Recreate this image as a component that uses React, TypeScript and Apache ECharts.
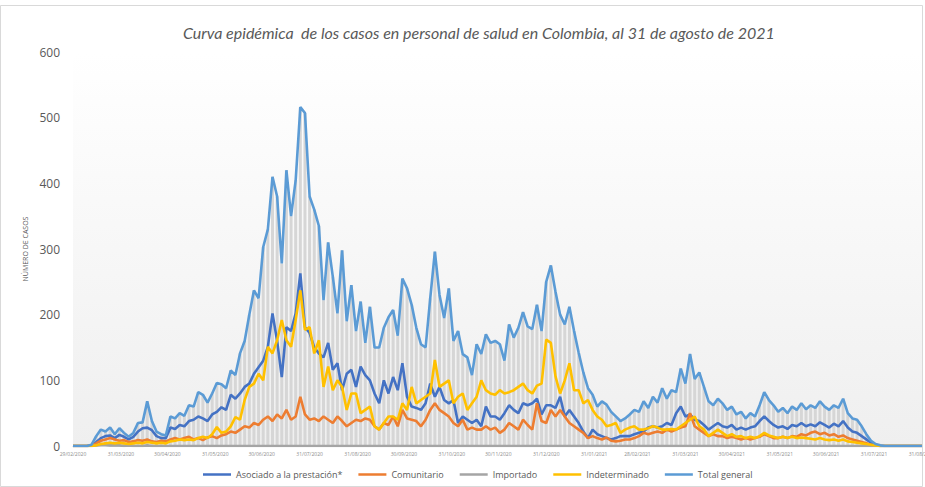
import React, { useEffect, useRef } from "react";
import * as echarts from "echarts";

const TITLE = "Curva epidémica  de los casos en personal de salud en Colombia, al 31 de agosto de 2021";
const Y_NAME = "NÚMERO DE CASOS";
const SERIES_NAMES = ["Asociado a la prestación*", "Comunitario", "Importado", "Indeterminado", "Total general"];
const COLORS = ["#4472C4", "#ED7D31", "#A5A5A5", "#FFC000", "#5B9BD5"];

// one sample every 3 days starting 29/02/2020
const START_DATE = "29/02/2020";
const STEP_DAYS = 3;

const TICK_LABELS = [
  "29/02/2020", "31/03/2020", "30/04/2020", "31/05/2020", "30/06/2020", "31/07/2020",
  "31/08/2020", "30/09/2020", "31/10/2020", "30/11/2020", "31/12/2020", "31/01/2021",
  "28/02/2021", "31/03/2021", "30/04/2021", "31/05/2021", "30/06/2021", "31/07/2021", "31/08/2021",
];

const TOTAL = [
  0, 0, 0, 0, 2, 15, 25, 22, 28, 18,
  27, 20, 14, 20, 35, 36, 68, 38, 22, 18,
  16, 45, 42, 50, 46, 62, 60, 82, 78, 66,
  80, 96, 94, 88, 115, 108, 141, 160, 200, 237,
  225, 303, 330, 410, 380, 278, 420, 350, 405, 516,
  507, 380, 360, 335, 222, 310, 258, 202, 298, 190,
  245, 175, 220, 157, 212, 150, 150, 180, 196, 207,
  168, 255, 240, 215, 180, 155, 150, 225, 296, 230,
  195, 240, 160, 175, 140, 135, 108, 155, 140, 170,
  157, 160, 155, 130, 185, 165, 180, 204, 182, 178,
  215, 175, 250, 275, 235, 200, 185, 212, 175, 142,
  112, 88, 78, 60, 68, 63, 52, 45, 38, 42,
  48, 55, 52, 68, 58, 75, 66, 88, 72, 85,
  82, 118, 95, 140, 102, 112, 90, 68, 62, 72,
  65, 55, 60, 48, 52, 42, 50, 45, 62, 82,
  70, 62, 52, 58, 50, 60, 55, 65, 56, 62,
  58, 68, 60, 55, 62, 58, 72, 50, 42, 40,
  30, 18, 8, 3, 1, 0, 0, 0, 0, 0,
  0, 0, 0, 0,
];

const ASOCIADO = [
  0, 0, 0, 0, 1, 6, 12, 15, 16, 12,
  17, 14, 10, 14, 22, 27, 28, 24, 15, 12,
  12, 28, 26, 32, 30, 38, 40, 45, 42, 38,
  48, 52, 59, 55, 78, 72, 80, 90, 95, 110,
  120, 130, 151, 202, 160, 105, 181, 175, 202, 263,
  181, 172, 150, 141, 135, 157, 116, 126, 85, 110,
  116, 90, 121, 108, 100, 80, 65, 100, 80, 105,
  85, 126, 75, 60, 58, 55, 65, 95, 75, 90,
  70, 65, 70, 35, 45, 40, 35, 40, 30, 60,
  45, 45, 40, 50, 62, 55, 50, 65, 62, 65,
  72, 48, 62, 62, 58, 75, 45, 55, 45, 35,
  22, 12, 25, 18, 15, 12, 10, 12, 15, 15,
  15, 18, 20, 22, 28, 30, 28, 30, 35, 32,
  50, 60, 45, 48, 40, 38, 32, 25, 30, 35,
  30, 28, 32, 25, 28, 25, 28, 30, 38, 45,
  38, 32, 28, 30, 26, 32, 30, 35, 30, 33,
  30, 36, 32, 28, 34, 30, 38, 28, 22, 20,
  15, 10, 5, 2, 0, 0, 0, 0, 0, 0,
  0, 0, 0, 0,
];

const COMUNITARIO = [
  0, 0, 0, 0, 1, 4, 8, 10, 12, 10,
  8, 9, 6, 7, 9, 8, 10, 7, 6, 8,
  7, 10, 12, 10, 12, 14, 10, 12, 9, 13,
  15, 12, 16, 18, 22, 20, 25, 30, 28, 35,
  32, 40, 45, 38, 48, 42, 55, 40, 45, 75,
  48, 40, 42, 38, 45, 40, 35, 45, 38, 30,
  35, 40, 38, 42, 40, 30, 25, 35, 32, 45,
  30, 55, 42, 40, 38, 30, 40, 55, 65, 55,
  50, 45, 35, 30, 40, 25, 28, 25, 25, 30,
  25, 28, 20, 25, 35, 30, 25, 40, 32, 25,
  65, 38, 35, 55, 45, 55, 45, 35, 30, 25,
  20, 12, 15, 12, 10, 13, 8, 7, 8, 10,
  10, 12, 15, 20, 18, 20, 22, 20, 25, 22,
  25, 28, 30, 50, 30, 25, 20, 15, 18, 15,
  15, 12, 14, 12, 10, 12, 10, 12, 14, 18,
  15, 12, 12, 14, 12, 15, 14, 18, 16, 20,
  22, 18, 20, 16, 18, 14, 16, 12, 10, 8,
  6, 4, 2, 1, 0, 0, 0, 0, 0, 0,
  0, 0, 0, 0,
];

const IMPORTADO = [
  0, 0, 0, 0, 0, 1, 2, 2, 1, 1,
  1, 0, 1, 0, 0, 0, 1, 0, 0, 0,
  0, 0, 0, 0, 0, 0, 0, 0, 0, 0,
  0, 0, 0, 0, 0, 0, 0, 0, 0, 0,
  0, 0, 0, 0, 0, 0, 0, 0, 0, 0,
  0, 0, 0, 0, 0, 0, 0, 0, 0, 0,
  0, 0, 0, 0, 0, 0, 0, 0, 0, 0,
  0, 0, 0, 0, 0, 0, 0, 0, 0, 0,
  0, 0, 0, 0, 0, 0, 0, 0, 0, 0,
  0, 0, 0, 0, 0, 0, 0, 0, 0, 0,
  0, 0, 0, 0, 0, 0, 0, 0, 0, 0,
  0, 0, 0, 0, 0, 0, 0, 0, 0, 0,
  0, 0, 0, 0, 0, 0, 0, 0, 0, 0,
  0, 0, 0, 0, 0, 0, 0, 0, 0, 0,
  0, 0, 0, 0, 0, 0, 0, 0, 0, 0,
  0, 0, 0, 0, 0, 0, 0, 0, 0, 0,
  0, 0, 0, 0, 0, 0, 0, 0, 0, 0,
  0, 0, 0, 0, 0, 0, 0, 0, 0, 0,
  0, 0, 0, 0,
];

const INDETERMINADO = [
  0, 0, 0, 0, 0, 1, 3, 4, 5, 4,
  5, 4, 3, 4, 5, 4, 6, 5, 4, 5,
  4, 7, 8, 10, 9, 10, 9, 12, 14, 12,
  18, 29, 20, 22, 30, 44, 40, 70, 90, 95,
  110, 100, 151, 141, 161, 192, 161, 151, 192, 237,
  177, 181, 141, 161, 90, 121, 85, 100, 90, 55,
  80, 80, 50, 55, 60, 30, 25, 35, 45, 45,
  40, 65, 55, 90, 65, 70, 75, 80, 131, 90,
  95, 100, 65, 75, 80, 55, 65, 75, 100, 85,
  80, 78, 85, 80, 82, 85, 90, 95, 85, 80,
  92, 95, 162, 157, 106, 80, 100, 126, 85, 85,
  65, 70, 55, 45, 40, 30, 32, 35, 20, 25,
  28, 30, 25, 25, 27, 30, 28, 25, 25, 26,
  25, 30, 35, 40, 45, 30, 25, 15, 20, 25,
  20, 15, 18, 14, 15, 12, 14, 12, 15, 20,
  16, 14, 12, 14, 12, 14, 12, 13, 12, 11,
  10, 12, 10, 9, 10, 8, 10, 7, 6, 5,
  4, 3, 2, 1, 0, 0, 0, 0, 0, 0,
  0, 0, 0, 0,
];

const DAY_MS = 86400000;
function parseDate(s: string): number {
  const [d, m, y] = s.split("/").map(Number);
  return Date.UTC(y, m - 1, d);
}
const START_MS = parseDate(START_DATE);
function dayIndex(s: string): number {
  return Math.round((parseDate(s) - START_MS) / DAY_MS);
}
function fmtDay(v: number): string {
  const d = new Date(START_MS + Math.round(v) * DAY_MS);
  const dd = String(d.getUTCDate()).padStart(2, "0");
  const mm = String(d.getUTCMonth() + 1).padStart(2, "0");
  return `${dd}/${mm}/${d.getUTCFullYear()}`;
}

export default function App() {
  const ref = useRef<HTMLDivElement>(null);
  useEffect(() => {
    if (!ref.current) return;
    const chart = echarts.init(ref.current, null, { renderer: "svg" });
    const toPairs = (arr: number[]) => arr.map((v, i) => [i * STEP_DAYS, v]);
    const tickDays = TICK_LABELS.map(dayIndex);
    const lastDay = tickDays[tickDays.length - 1];
    const values = [ASOCIADO, COMUNITARIO, IMPORTADO, INDETERMINADO, TOTAL];
    const font = "'Open Sans', 'Liberation Sans', sans-serif";

    const lineSeries = SERIES_NAMES.map((name, i) => ({
      name,
      type: "line",
      data: toPairs(values[i]),
      showSymbol: false,
      symbol: "none",
      lineStyle: { color: COLORS[i], width: 2.6 },
      itemStyle: { color: COLORS[i] },
      z: 3 + i,
    }));

    chart.setOption({
      animation: false,
      backgroundColor: "#ffffff",
      title: {
        text: TITLE,
        left: 178,
        top: 19,
        textStyle: {
          fontFamily: "Lato, 'Open Sans', sans-serif",
          fontStyle: "italic",
          fontWeight: "normal",
          fontSize: 16,
          color: "#595959",
        },
      },
      legend: {
        data: SERIES_NAMES,
        top: 465,
        left: 198,
        icon: "rect",
        itemWidth: 28,
        itemHeight: 2.5,
        itemGap: 16,
        textStyle: { fontSize: 9, color: "#595959", fontFamily: font },
      },
      graphic: [
        {
          type: "rect",
          shape: { x: 0.5, y: 5.5, width: 922, height: 481 },
          style: { fill: "none", stroke: "#d9d9d9", lineWidth: 1 },
          silent: true,
        },
      ],
      grid: {
        left: 73,
        right: 3,
        top: 52,
        bottom: 41,
        outerBoundsMode: "none",
        containLabel: false,
        show: true,
        borderWidth: 0,
        backgroundColor: {
          type: "linear",
          x: 0, y: 0, x2: 0, y2: 1,
          colorStops: [
            { offset: 0, color: "#ffffff" },
            { offset: 1, color: "#efefef" },
          ],
        },
      },
      xAxis: {
        type: "value",
        min: 0,
        max: lastDay,
        splitLine: { show: false },
        axisLine: { show: true, lineStyle: { color: "#d0d0d0", width: 1 } },
        axisTick: { show: false },
        axisLabel: {
          customValues: tickDays,
          formatter: (v: number) => fmtDay(v),
          fontSize: 5,
          color: "#8c8c8c",
          margin: 5,
          fontFamily: font,
          showMaxLabel: true,
          showMinLabel: true,
        },
      },
      yAxis: {
        type: "value",
        min: 0,
        max: 600,
        interval: 100,
        name: Y_NAME,
        nameLocation: "middle",
        nameGap: 40,
        nameRotate: 90,
        nameTextStyle: { fontSize: 7, color: "#595959", fontFamily: font },
        splitLine: { show: false },
        axisLine: { show: false },
        axisTick: { show: false },
        axisLabel: { fontSize: 12, color: "#595959", margin: 13, fontFamily: font },
      },
      series: [
        {
          name: "drop",
          type: "bar",
          data: toPairs(TOTAL),
          barWidth: 3,
          itemStyle: { color: "#d6d6d6" },
          silent: true,
          z: 1,
        },
        ...lineSeries,
      ],
    });
    return () => chart.dispose();
  }, []);
  return (
    <div
      ref={ref}
      style={{ position: "absolute", left: 0, top: 0, width: 925, height: 487 }}
    />
  );
}
